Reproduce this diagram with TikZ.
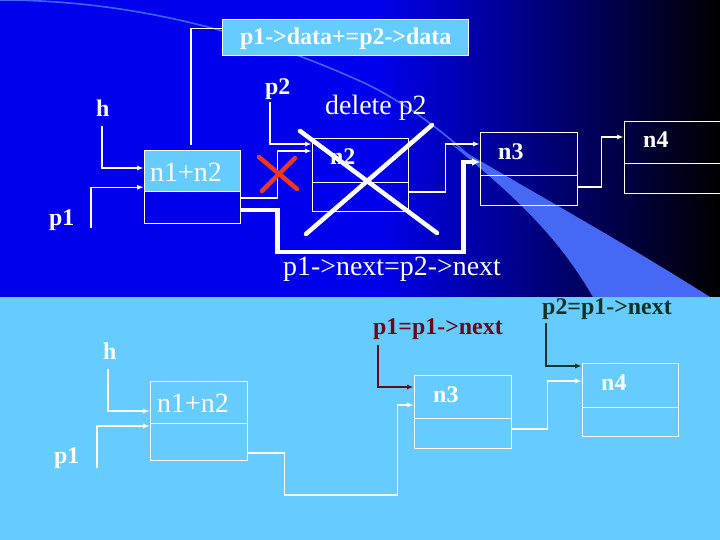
\documentclass[tikz,border=0pt]{standalone}
\usepackage{fontspec}
\setmainfont{Liberation Serif}
\usetikzlibrary{arrows.meta,calc}
\definecolor{topblue}{RGB}{0,0,236}
\definecolor{lightbg}{RGB}{102,204,255}
\definecolor{boxfill}{RGB}{102,204,255}
\definecolor{dred}{RGB}{105,10,25}
\definecolor{dgreen}{RGB}{15,50,40}
\definecolor{xred}{RGB}{240,55,30}
\definecolor{wedgec}{RGB}{70,105,245}
\definecolor{arcc}{RGB}{60,100,255}
\begin{document}
\begin{tikzpicture}[x=1bp,y=-1bp,
  lbl/.style={text=white,font=\bfseries\fontsize{24}{24}\selectfont,inner sep=0,anchor=base west},
  txt/.style={text=white,font=\fontsize{28}{28}\selectfont,inner sep=0,anchor=base west},
  cell/.style={draw=white,line width=1.3bp,anchor=north west,inner sep=0,minimum width=97bp},
  link/.style={draw=white,line width=1.4bp,-{Latex[length=7bp,width=5bp]}},
  plain/.style={draw=white,line width=1.4bp},
  thick link/.style={draw=white,line width=4.5bp,-{Latex[length=8bp,width=8bp]}},
  xline/.style={line width=4.5bp,line cap=round}
]
\useasboundingbox (0,0) rectangle (720,540);
% backgrounds
\fill[topblue] (0,0) rectangle (380,297);
\shade[left color=topblue,right color=black] (379.5,0) rectangle (720,297);
\fill[wedgec] (450,143) .. controls (520,200) and (560,240) .. (593,297) -- (710,297) .. controls (620,240) and (520,185) .. (450,143) -- cycle;
\draw[arcc,line width=1.6bp] (0,0) .. controls (120,0) and (240,27) .. (360,81) .. controls (400,99) and (450,135) .. (480,167);
\fill[lightbg] (0,297) rectangle (720,540);

% ===== top part =====
\node[cell,fill=boxfill,minimum width=246bp,minimum height=36bp] (eq) at (222,19) {};
\node[lbl,anchor=center] (eqt) at ([yshift=-1bp]eq.center) {p1->data+=p2->data};

\node[cell,fill=boxfill,minimum width=96bp,minimum height=41bp] (n1a) at (144,150) {};
\node[cell,minimum width=96bp,minimum height=32bp] (n1b) at (144,191) {};
\node[txt] (n1t) at (150,182) {n1+n2};

\node[cell,minimum width=96bp,minimum height=44bp] (n2a) at (312,138) {};
\node[cell,minimum width=96bp,minimum height=29bp] (n2b) at (312,182) {};
\node[lbl] (n2t) at (330,165) {n2};

\node[cell,minimum height=43bp] (n3a) at (480,132) {};
\node[cell,minimum height=30bp] (n3b) at (480,175) {};
\node[lbl] (n3t) at (498,160) {n3};

\node[cell,minimum width=110bp,minimum height=42bp] (n4a) at (624,121) {};
\node[cell,minimum width=110bp,minimum height=30bp] (n4b) at (624,163) {};
\node[lbl] (n4t) at (643,148) {n4};

\node[lbl] (p2l) at (265,95) {p2};
\node[lbl] (hl) at (96,117) {h};
\node[lbl] (p1l) at (49,226) {p1};
\node[txt] (del) at (325,115) {delete p2};
\node[txt] (nx) at (283,276) {p1->next=p2->next};

\coordinate (p2s) at (270,102);
\coordinate (hs) at (102,126);
\coordinate (p1s) at (91,228);

\draw[plain] ([yshift=9bp]eq.west) -| ([xshift=47bp,yshift=5bp]n1a.north west);
\draw[link] (p2s) |- ([yshift=-6bp]n2a.north west);
\draw[link] (hs) |- ([yshift=-18bp]n1a.north west);
\draw[link] (p1s) |- ([yshift=5bp]n1a.south west);
\draw[link] ([yshift=-7bp]n1b.north east) -- ++(36,0) |- ([yshift=-13bp]n2a.north west);
\draw[link] ([yshift=-10bp]n2b.north east) -- ++(36,0) |- ([yshift=-12bp]n3a.north west);
\draw[link] ([yshift=-12bp]n3b.north east) -- ++(23,0) |- ([yshift=-16bp]n4a.north west);
\draw[thick link] ([yshift=-19bp]n1b.north east) -- ++(36,0) -- ++(0,42) -- ++(186,0) |- ([yshift=-30bp]n3a.north west);

\draw[xred,xline] (259,157) -- (297,189);
\draw[xred,xline] (295,158) -- (262,191);
\draw[white,xline] (300,131) -- (437,233);
\draw[white,xline] (306,234) -- (432,125);

% ===== bottom part =====
\node[cell,minimum height=42bp] (n1c) at (150,381) {};
\node[cell,minimum height=37bp] (n1d) at (150,423) {};
\node[txt] (n1ct) at (157,412) {n1+n2};

\node[cell,minimum height=43bp] (n3c) at (414,375) {};
\node[cell,minimum height=30bp] (n3d) at (414,418) {};
\node[lbl] (n3ct) at (433,402) {n3};

\node[cell,minimum width=96bp,minimum height=44bp] (n4c) at (582,363) {};
\node[cell,minimum width=96bp,minimum height=29bp] (n4d) at (582,407) {};
\node[lbl] (n4ct) at (601,390) {n4};

\node[lbl] (hl2) at (103,359) {h};
\node[lbl] (p1l2) at (54,463) {p1};
\node[lbl,text=dred] (rl) at (373,334) {p1=p1->next};
\node[lbl,text=dgreen] (gl) at (542,314) {p2=p1->next};

\coordinate (hs2) at (108,369);
\coordinate (p1s2) at (97,468);
\coordinate (rs) at (378,345);
\coordinate (gs) at (546,323);

\draw[link] (hs2) |- ([yshift=-30bp]n1c.north west);
\draw[link] (p1s2) |- ([yshift=-3bp]n1d.north west);
\draw[link] ([yshift=-30bp]n1d.north east) -- ++(36,0) -- ++(0,42) -- ++(113,0) |- ([yshift=-30bp]n3c.north west);
\draw[link] ([yshift=-11bp]n3d.north east) -- ++(35,0) |- ([yshift=-18bp]n4c.north west);
\draw[link,draw=dred,line width=2bp] (rs) |- ([yshift=-12bp]n3c.north west);
\draw[link,draw=dgreen,line width=2bp] (gs) |- ([yshift=-3bp]n4c.north west);
\end{tikzpicture}
\end{document}
